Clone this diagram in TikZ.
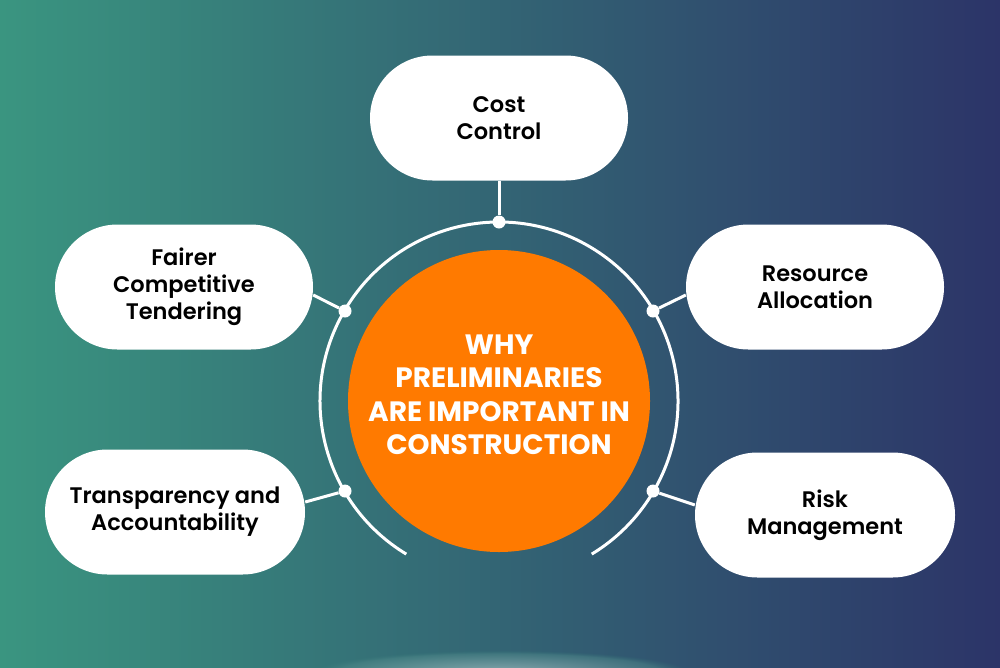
\documentclass[tikz,border=0pt]{standalone}
\usepackage{fontspec}
\setmainfont{Poppins}[BoldFont=Poppins Bold]
\newfontfamily\medfont{Poppins SemiBold}
\usetikzlibrary{shapes.misc,fadings}
\definecolor{bgL}{HTML}{3A9580}
\definecolor{bgR}{HTML}{2C3468}
\definecolor{orng}{HTML}{FF7A00}
\tikzset{
  pill/.style={fill=white,rounded rectangle,minimum width=258pt,minimum height=125pt,align=center,font=\medfont\fontsize{22.5}{27}\selectfont,text=black,inner xsep=0pt},
  link/.style={white,line width=3pt},
  dot/.style={circle,fill=white,inner sep=0pt,minimum size=13pt}
}
\begin{document}
\begin{tikzpicture}[x=1pt,y=-1pt]
\useasboundingbox (0,0) rectangle (1000,667);
\shade[left color=bgL,right color=bgR] (0,0) rectangle (1000,667);
\shade[inner color=white!80!bgL,outer color=bgL!70!bgR,opacity=0.5,path fading=circle with fuzzy edge 15 percent] (499,672) ellipse (190 and 22);
\node[circle,fill=orng,minimum size=302pt,inner sep=0pt] (c) at (499,401) {};
\node[text=white,font=\bfseries\fontsize{28}{33.5}\selectfont,align=center] at (499,395) {WHY\\PRELIMINARIES\\ARE IMPORTANT IN\\CONSTRUCTION};
\draw[link] (499,401) ++(121.2:179) arc[start angle=121.2,end angle=418.8,radius=179];
\node[dot] (dT) at (499,222) {};
\node[dot] (dL1) at (345,311) {};
\node[dot] (dR1) at (653,311) {};
\node[dot] (dL2) at (345,491) {};
\node[dot] (dR2) at (653,491) {};
\node[pill] (cost) at (499,118) {Cost\\Control};
\node[pill] (fair) at (184,287) {Fairer\\Competitive\\Tendering};
\node[pill] (res) at (815,287) {Resource\\Allocation};
\node[pill,minimum width=260pt] (trans) at (175,512) {Transparency and\\Accountability};
\node[pill,minimum width=260pt] (risk) at (825,515) {Risk\\Management};
\draw[link] (cost.south) -- (dT);
\draw[link] (fair.east) ++(0,8) -- (dL1);
\draw[link] (res.west) ++(0,8) -- (dR1);
\draw[link] (trans.east) ++(0,-10) -- (dL2);
\draw[link] (risk.west) ++(0,-10) -- (dR2);
\end{tikzpicture}
\end{document}
